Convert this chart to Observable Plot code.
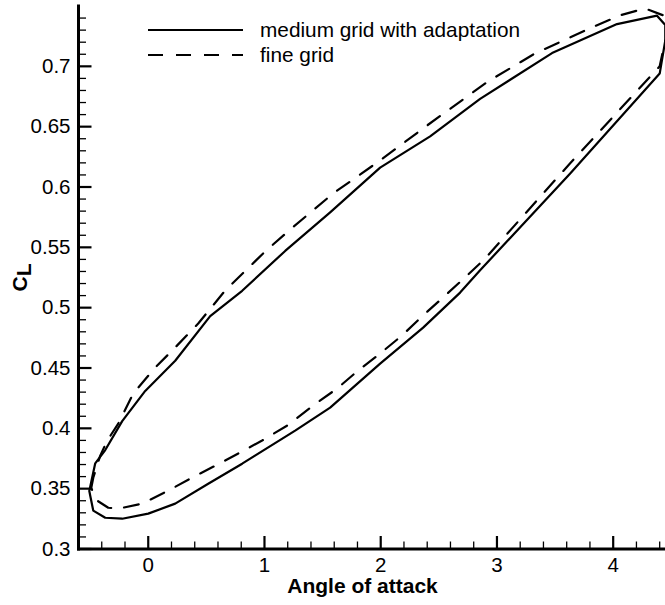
<!DOCTYPE html>
<html><head><meta charset="utf-8">
<script src="https://cdn.jsdelivr.net/npm/d3@7"></script>
<script src="https://cdn.jsdelivr.net/npm/@observablehq/plot@0.6"></script>
<style>
body{margin:0;background:#fff;}
#wrap{position:relative;width:665px;height:605px;font-family:"Liberation Sans",Arial,sans-serif;}
#legend{position:absolute;left:140px;top:10px;}
</style></head><body><div id="wrap"></div>
<script>
// ---- data ----
const seriesNames = ["medium grid with adaptation", "fine grid"];
const mediumAlpha = [-0.507,-0.456,-0.370,-0.224,-0.026,0.232,0.533,0.808,1.178,1.565,1.995,2.425,2.855,3.474,4.033,4.377,4.45,4.45,4.40,3.628,2.855,2.683,2.365,1.995,1.565,1.264,0.808,0.516,0.232,0.0,-0.224,-0.370,-0.473,-0.499,-0.507];
const mediumCL    = [0.348,0.371,0.382,0.406,0.431,0.456,0.493,0.514,0.547,0.579,0.616,0.642,0.673,0.711,0.735,0.742,0.734,0.7225,0.694,0.611,0.531,0.5125,0.4835,0.4536,0.4172,0.3981,0.3707,0.3541,0.3376,0.3293,0.3251,0.3259,0.3318,0.3442,0.348];
const fineAlpha = [-0.490,-0.473,-0.413,-0.353,-0.258,-0.129,0.060,0.232,0.430,0.662,1.006,1.221,1.591,1.995,2.399,2.923,3.328,3.818,4.058,4.273,4.45,4.45,4.40,3.628,2.898,2.726,2.537,2.365,2.184,1.995,1.806,1.625,1.419,1.195,0.980,0.662,0.378,0.172,-0.052,-0.258,-0.344,-0.439,-0.473,-0.490];
const fineCL    = [0.3508,0.3591,0.3774,0.3898,0.4039,0.4288,0.4504,0.4670,0.4869,0.5142,0.5466,0.5648,0.5947,0.6220,0.6510,0.6875,0.7107,0.7323,0.7422,0.7480,0.7415,0.7225,0.700,0.6195,0.5407,0.5251,0.5085,0.4936,0.4770,0.4620,0.4479,0.4330,0.4189,0.4023,0.3899,0.3733,0.3592,0.3484,0.3376,0.3334,0.3342,0.3401,0.3459,0.3508];
const xTicks = [0, 1, 2, 3, 4];
const yTicks = [0.3, 0.35, 0.4, 0.45, 0.5, 0.55, 0.6, 0.65, 0.7];
const xDomain = [-0.6, 4.45];
const yDomain = [0.3, 0.75];
const xTitle = "Angle of attack";
const yTitle = "CL";

// ---- build ----
const medium = mediumAlpha.map((a, i) => ({a, cl: mediumCL[i]}));
const fine = fineAlpha.map((a, i) => ({a, cl: fineCL[i]}));
const xMinor = d3.range(-2, 23).filter(i => i % 5 !== 0).map(i => i / 5);
const yMinor = d3.range(31, 75).filter(i => i % 5 !== 0).map(i => i / 100);

const W = 665, H = 605, mt = 5.5, mb = 56.5, ml = 78, mr = 0;
const fh = H - mt - mb, fw = W - ml - mr;
const kx = fw / (xDomain[1] - xDomain[0]);   // px per x unit
const ky = fh / (yDomain[1] - yDomain[0]);   // px per y unit
const majorLen = 13, minorLen = 7.5;
const font = '"Liberation Sans", Arial, sans-serif';

// tick segments (two end points each, grouped by id) built from the tick lists
function xSegs(list, len) {
  return list.flatMap((v, i) => [{id: i, a: v, cl: yDomain[0]}, {id: i, a: v, cl: yDomain[0] + len / ky}]);
}
function ySegs(list, len) {
  return list.flatMap((v, i) => [{id: i, a: xDomain[0], cl: v}, {id: i, a: xDomain[0] + len / kx, cl: v}]);
}
const spines = [
  {id: 0, a: xDomain[0], cl: yDomain[1]}, {id: 0, a: xDomain[0], cl: yDomain[0]},
  {id: 1, a: xDomain[0], cl: yDomain[0]}, {id: 1, a: xDomain[1], cl: yDomain[0]}
];

const chart = Plot.plot({
  width: W, height: H,
  marginTop: mt, marginBottom: mb, marginLeft: ml, marginRight: mr,
  x: {domain: xDomain},
  y: {domain: yDomain},
  style: {fontFamily: font, fontSize: "20.5px", color: "black", background: "white", overflow: "visible"},
  marks: [
    Plot.line(medium, {x: "a", y: "cl", stroke: "black", strokeWidth: 2.2}),
    Plot.line(fine, {x: "a", y: "cl", stroke: "black", strokeWidth: 2.2, strokeDasharray: "15,13"}),
    // inward ticks
    Plot.line(xSegs(xMinor, minorLen), {x: "a", y: "cl", z: "id", stroke: "black", strokeWidth: 1.3, strokeLinecap: "butt"}),
    Plot.line(xSegs(xTicks, majorLen), {x: "a", y: "cl", z: "id", stroke: "black", strokeWidth: 2.2, strokeLinecap: "butt"}),
    Plot.line(ySegs(yMinor, minorLen), {x: "a", y: "cl", z: "id", stroke: "black", strokeWidth: 1.3, strokeLinecap: "butt"}),
    Plot.line(ySegs(yTicks, majorLen), {x: "a", y: "cl", z: "id", stroke: "black", strokeWidth: 2.2, strokeLinecap: "butt"}),
    // spines
    Plot.line(spines, {x: "a", y: "cl", z: "id", stroke: "black", strokeWidth: 3, strokeLinecap: "square"}),
    Plot.axisX(xTicks, {tickSize: 0, tickPadding: 8, label: null, tickFormat: d => String(d)}),
    Plot.axisY(yTicks, {tickSize: 0, tickPadding: 8, label: null, tickFormat: d => String(d)}),
    Plot.text([xTitle], {text: d => d, frameAnchor: "bottom", dy: 43.5, dx: -9.5, lineAnchor: "bottom", textAnchor: "middle", fontWeight: "bold", fontSize: 21}),
    Plot.text([yTitle], {text: d => d, frameAnchor: "left", dx: -52, rotate: -90, lineAnchor: "bottom", textAnchor: "middle", fontWeight: "bold", fontSize: 21})
  ]
});

// subscript L in the y title
const ns = "http://www.w3.org/2000/svg";
chart.querySelectorAll("text").forEach(t => {
  if (t.textContent === yTitle) {
    t.textContent = yTitle[0];
    const ts = document.createElementNS(ns, "tspan");
    ts.setAttribute("dy", "4");
    ts.textContent = yTitle.slice(1);
    t.appendChild(ts);
  }
});

const wrap = document.getElementById("wrap");
wrap.appendChild(chart);

// legend overlay
const leg = document.createElementNS(ns, "svg");
leg.setAttribute("id", "legend");
leg.setAttribute("width", 420);
leg.setAttribute("height", 70);
const dashes = [null, "15,13"];
seriesNames.forEach((name, i) => {
  const y = 20 + i * 25;
  const l = document.createElementNS(ns, "line");
  l.setAttribute("x1", 8); l.setAttribute("x2", 103);
  l.setAttribute("y1", y); l.setAttribute("y2", y);
  l.setAttribute("stroke", "black"); l.setAttribute("stroke-width", 2.2);
  if (dashes[i]) l.setAttribute("stroke-dasharray", dashes[i]);
  leg.appendChild(l);
  const t = document.createElementNS(ns, "text");
  t.setAttribute("x", 120); t.setAttribute("y", y + 6.7);
  t.setAttribute("font-family", font); t.setAttribute("font-size", 20.8);
  t.textContent = name;
  leg.appendChild(t);
});
wrap.appendChild(leg);
</script></body></html>
